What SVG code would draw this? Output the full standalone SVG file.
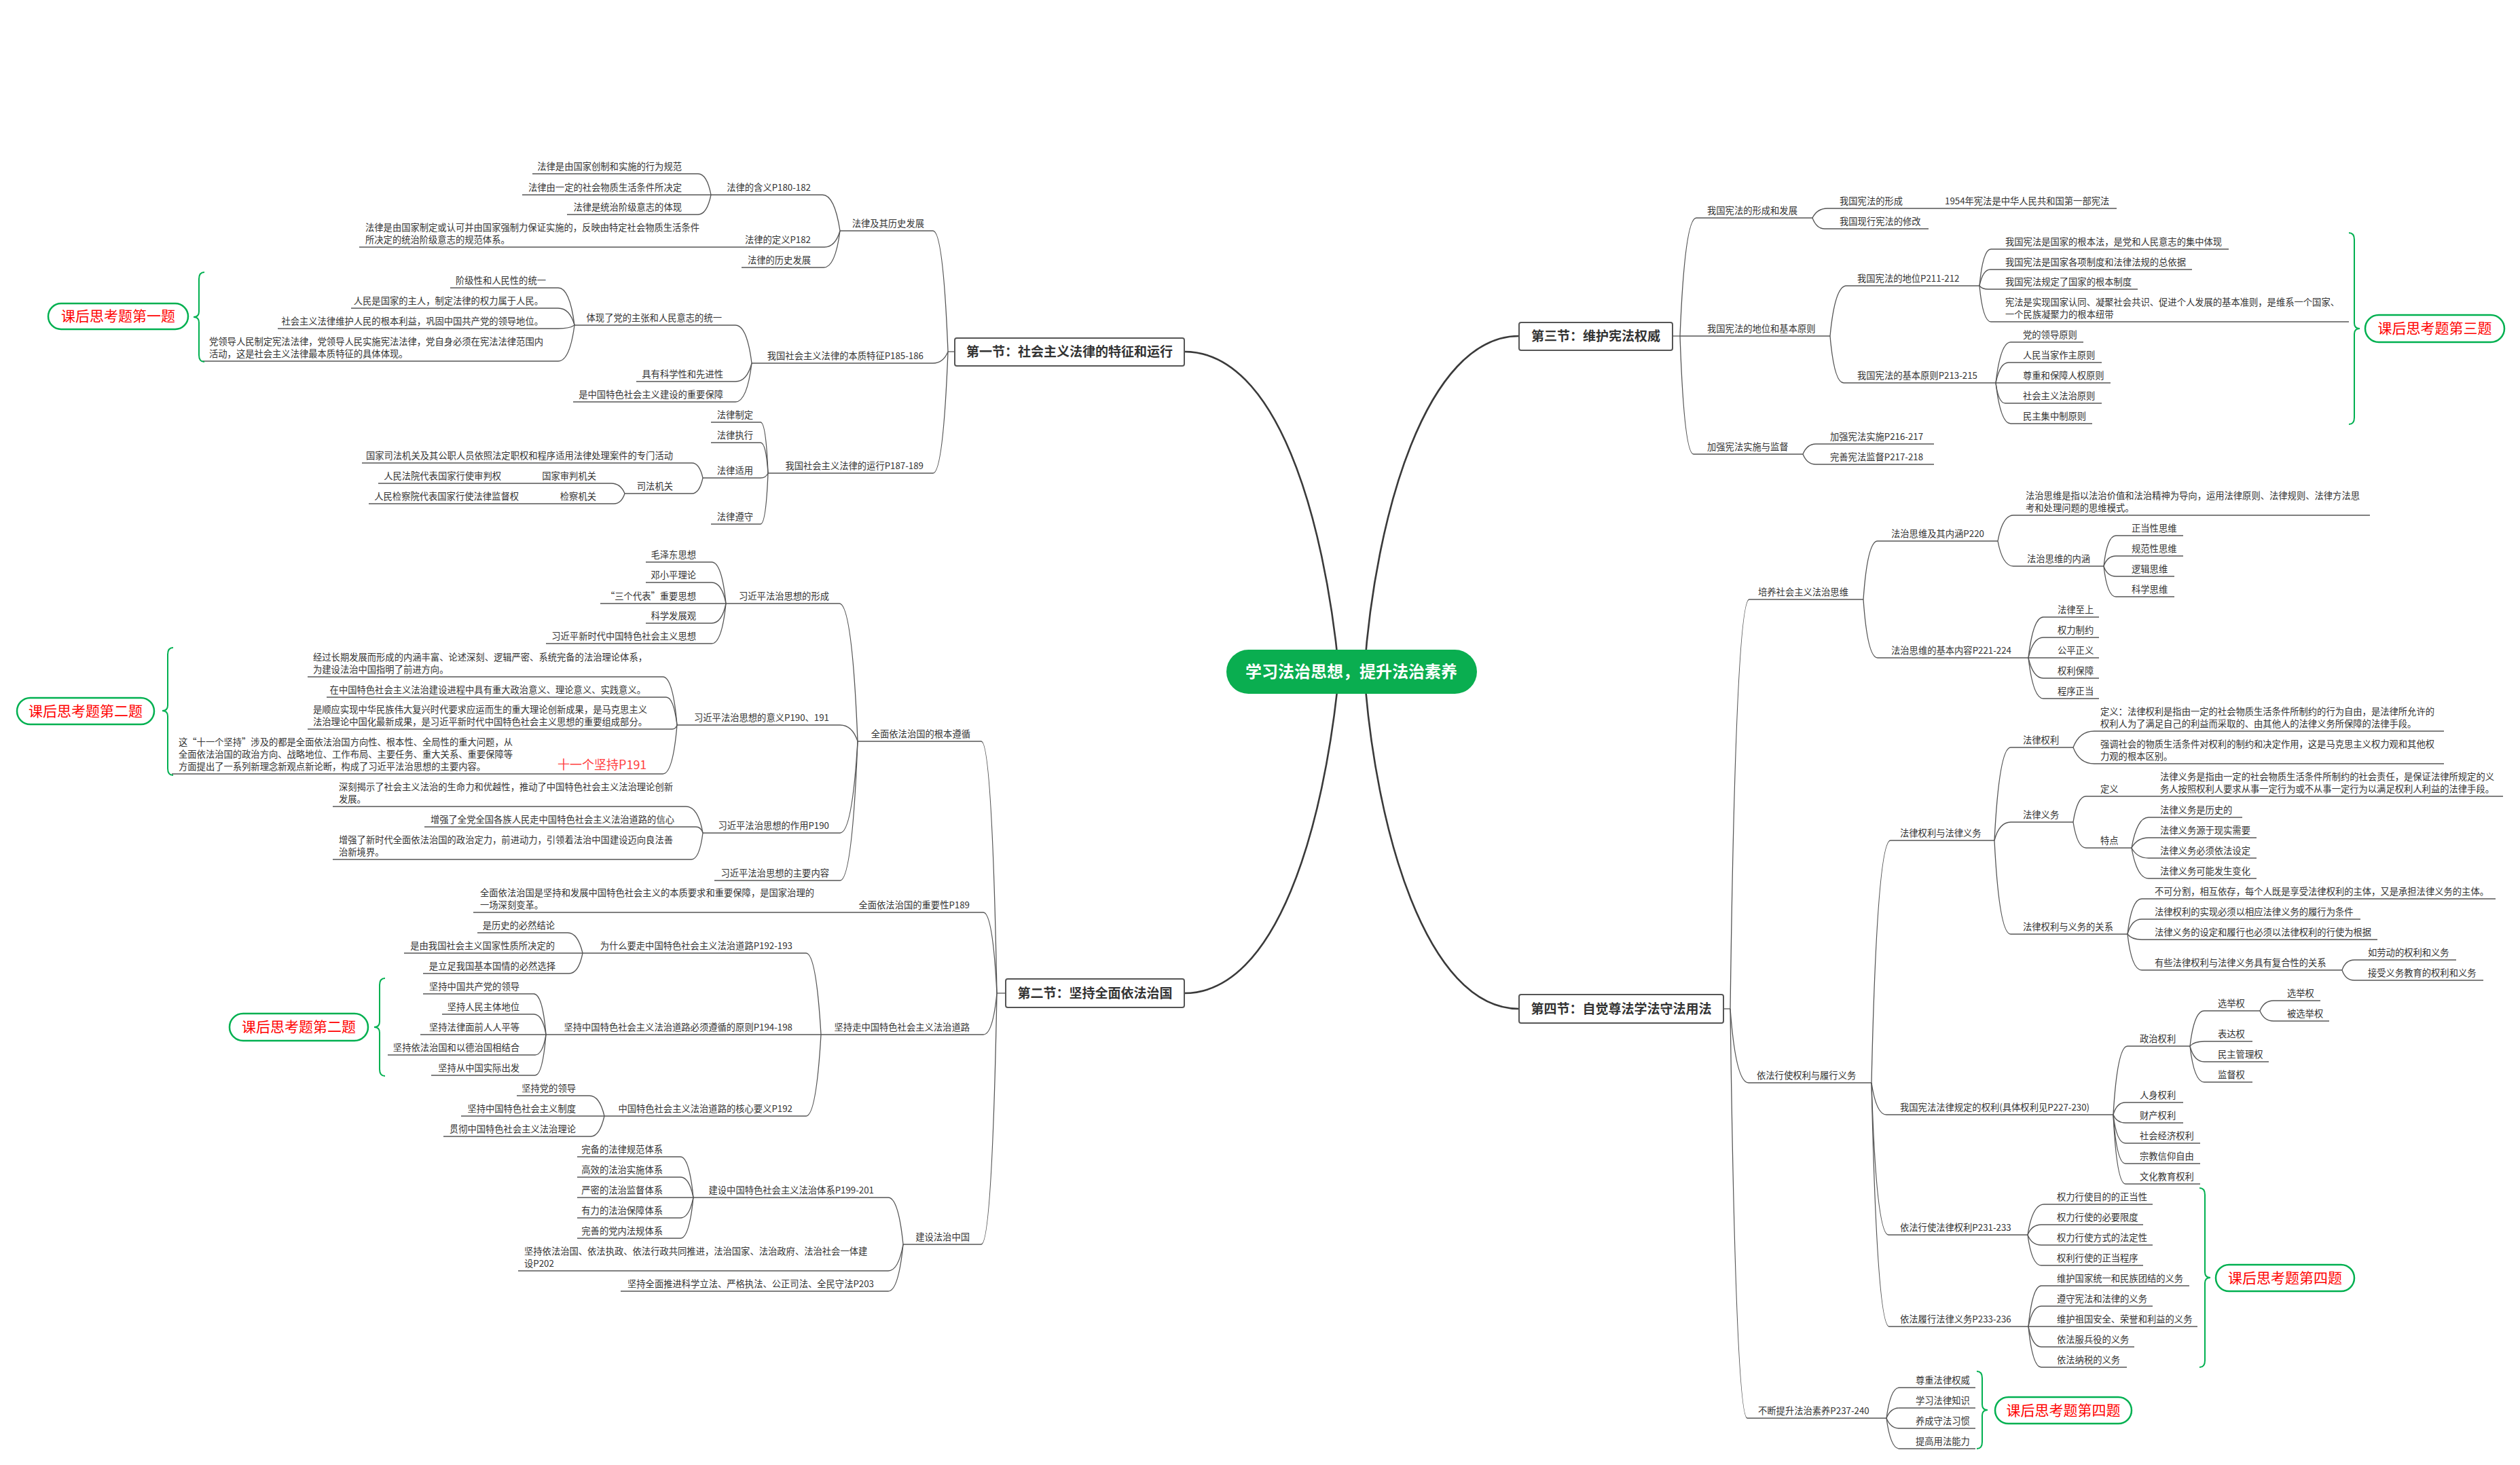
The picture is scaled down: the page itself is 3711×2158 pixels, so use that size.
<svg xmlns="http://www.w3.org/2000/svg" width="3711" height="2158" viewBox="0 0 3711 2158">
<style>
.t{font-family:"Noto Sans CJK SC","Noto Sans",sans-serif;font-size:13.3px;fill:#333}
.e{text-anchor:end}
.u{stroke:#555;stroke-width:1.3;fill:none}
.c{stroke:#555;stroke-width:1.3;fill:none}
.m{stroke:#3a3a3a;stroke-width:2.6;fill:none}
.sec{fill:#fff;stroke:#555;stroke-width:2}
.st{font-family:"Noto Sans CJK SC","Noto Sans",sans-serif;font-size:19px;font-weight:bold;fill:#333;text-anchor:middle}
.hw{fill:#fff;stroke:#00B050;stroke-width:2.5}
.ht{font-family:"Noto Sans CJK SC","Noto Sans",sans-serif;font-size:21px;fill:#FF0000;text-anchor:middle}
.br{stroke:#00B050;stroke-width:2;fill:none}
.red{font-family:"Noto Sans CJK SC","Noto Sans",sans-serif;font-size:18px;fill:#FF4040}
</style>
<rect width="3711" height="2158" fill="#fff"/>

<g id="connectors">
<path class="m" d="M1744,518 C1880,518 1950,760 1972,990"/>
<path class="m" d="M1744,1463 C1880,1463 1950,1220 1972,990"/>
<path class="m" d="M2237,495 C2100,495 2025,760 2009,990"/>
<path class="m" d="M2237,1486 C2100,1486 2025,1220 2009,990"/>
<!-- section 1 -->
<path class="c" d="M1406,518 L1396,518"/>
<path class="c" d="M1396,518 Q1389,340 1374,340"/>
<path class="c" d="M1396,518 Q1389,535 1374,535"/>
<path class="c" d="M1396,518 Q1389,697 1374,697"/>
<path class="c" d="M1237,340 Q1229,287 1211,287"/>
<path class="c" d="M1237,340 Q1230,364 1214,364"/>
<path class="c" d="M1237,340 Q1230,394 1213,394"/>
<path class="c" d="M1047,287 Q1041,256 1028,256"/>
<path class="c" d="M1047,287 Q1041,316 1028,316"/>
<path class="c" d="M1107,535 Q1100,479 1083,479"/>
<path class="c" d="M1107,535 Q1100,562 1083,562"/>
<path class="c" d="M1107,535 Q1100,592 1083,592"/>
<path class="c" d="M846,479 Q839,424 822,424"/>
<path class="c" d="M846,479 Q839,454 822,454"/>
<path class="c" d="M846,479 Q839,484 822,484"/>
<path class="c" d="M846,479 Q839,532 822,532"/>
<path class="c" d="M1131,697 Q1128,622 1120,622"/>
<path class="c" d="M1131,697 Q1128,652 1120,652"/>
<path class="c" d="M1131,697 Q1128,704 1120,704"/>
<path class="c" d="M1131,697 Q1128,772 1120,772"/>
<path class="c" d="M1035,704 Q1030,682 1019,682"/>
<path class="c" d="M1035,704 Q1030,727 1019,727"/>
<path class="c" d="M920,727 Q914,712 900,712"/>
<path class="c" d="M920,727 Q915,742 904,742"/>
<!-- section 2 -->
<path class="c" d="M1481,1463 L1468,1463"/>
<path class="c" d="M1468,1463 Q1461,1092 1445,1092"/>
<path class="c" d="M1468,1463 Q1462,1344 1448,1344"/>
<path class="c" d="M1468,1463 Q1462,1524 1448,1524"/>
<path class="c" d="M1468,1463 Q1461,1833 1445,1833"/>
<path class="c" d="M1263,1092 Q1255,889 1236,889"/>
<path class="c" d="M1263,1092 Q1255,1068 1237,1068"/>
<path class="c" d="M1263,1092 Q1255,1227 1237,1227"/>
<path class="c" d="M1263,1092 Q1255,1297 1237,1297"/>
<path class="c" d="M1069,889 Q1063,828 1048,828"/>
<path class="c" d="M1069,889 Q1063,858 1048,858"/>
<path class="c" d="M1069,889 Q1063,918 1048,918"/>
<path class="c" d="M1069,889 Q1063,948 1048,948"/>
<path class="c" d="M997,1068 Q991,997 976,997"/>
<path class="c" d="M997,1068 Q992,1027 981,1027"/>
<path class="c" d="M997,1068 Q995,1074 990,1074"/>
<path class="c" d="M997,1068 Q991,1140 976,1140"/>
<path class="c" d="M1035,1227 Q1028,1188 1010,1188"/>
<path class="c" d="M1035,1227 Q1032,1218 1025,1218"/>
<path class="c" d="M1035,1227 Q1030,1266 1018,1266"/>
<path class="c" d="M1209,1524 Q1202,1404 1187,1404"/>
<path class="c" d="M1209,1524 Q1202,1644 1187,1644"/>
<path class="c" d="M858,1404 Q851,1374 836,1374"/>
<path class="c" d="M858,1404 Q852,1434 838,1434"/>
<path class="c" d="M804,1524 Q799,1464 786,1464"/>
<path class="c" d="M804,1524 Q799,1494 786,1494"/>
<path class="c" d="M804,1524 Q799,1554 788,1554"/>
<path class="c" d="M804,1524 Q799,1584 788,1584"/>
<path class="c" d="M890,1644 Q883,1614 868,1614"/>
<path class="c" d="M890,1644 Q883,1674 870,1674"/>
<path class="c" d="M1330,1833 Q1323,1764 1308,1764"/>
<path class="c" d="M1330,1833 Q1323,1872 1308,1872"/>
<path class="c" d="M1330,1833 Q1323,1902 1308,1902"/>
<path class="c" d="M1021,1764 Q1015,1704 1002,1704"/>
<path class="c" d="M1021,1764 Q1015,1734 1002,1734"/>
<path class="c" d="M1021,1764 Q1015,1794 1002,1794"/>
<path class="c" d="M1021,1764 Q1015,1824 1002,1824"/>
<!-- section 3 -->
<path class="c" d="M2463,495 L2474,495"/>
<path class="c" d="M2474,495 Q2481,321 2498,321"/>
<path class="c" d="M2474,495 Q2480,669 2494,669"/>
<path class="c" d="M2669,321 Q2676,307 2691,307"/>
<path class="c" d="M2669,321 Q2675,337 2687,337"/>
<path class="c" d="M2695,495 Q2702,421 2719,421"/>
<path class="c" d="M2695,495 Q2701,564 2715,564"/>
<path class="c" d="M2915,421 Q2920,367 2932,367"/>
<path class="c" d="M2915,421 Q2920,397 2931,397"/>
<path class="c" d="M2915,421 Q2919,426 2928,426"/>
<path class="c" d="M2915,421 Q2920,474 2932,474"/>
<path class="c" d="M2939,564 Q2946,504 2961,504"/>
<path class="c" d="M2939,564 Q2945,534 2958,534"/>
<path class="c" d="M2939,564 Q2943,594 2953,594"/>
<path class="c" d="M2939,564 Q2946,624 2961,624"/>
<path class="c" d="M2655,669 Q2661,654 2674,654"/>
<path class="c" d="M2655,669 Q2661,684 2674,684"/>
<!-- section 4 -->
<path class="c" d="M2538,1486 L2548,1486"/>
<path class="c" d="M2548,1486 Q2556,883 2576,883"/>
<path class="c" d="M2548,1486 Q2556,1595 2575,1595"/>
<path class="c" d="M2548,1486 Q2556,2089 2573,2089"/>
<path class="c" d="M2744,883 Q2750,797 2765,797"/>
<path class="c" d="M2744,883 Q2750,969 2765,969"/>
<path class="c" d="M2942,797 Q2949,759 2965,759"/>
<path class="c" d="M2942,797 Q2949,834 2965,834"/>
<path class="c" d="M3098,834 Q3103,789 3116,789"/>
<path class="c" d="M3098,834 Q3103,819 3116,819"/>
<path class="c" d="M3098,834 Q3103,849 3116,849"/>
<path class="c" d="M3098,834 Q3103,879 3116,879"/>
<path class="c" d="M2987,969 Q2994,909 3009,909"/>
<path class="c" d="M2987,969 Q2994,939 3009,939"/>
<path class="c" d="M2987,969 Q2994,999 3009,999"/>
<path class="c" d="M2987,969 Q2994,1029 3009,1029"/>
<path class="c" d="M2756,1595 Q2764,1238 2784,1238"/>
<path class="c" d="M2756,1595 Q2763,1642 2778,1642"/>
<path class="c" d="M2756,1595 Q2763,1819 2781,1819"/>
<path class="c" d="M2756,1595 Q2764,1954 2782,1954"/>
<path class="c" d="M2937,1238 Q2944,1101 2961,1101"/>
<path class="c" d="M2937,1238 Q2944,1211 2961,1211"/>
<path class="c" d="M2937,1238 Q2944,1376 2961,1376"/>
<path class="c" d="M3053,1101 Q3062,1077 3084,1077"/>
<path class="c" d="M3053,1101 Q3062,1125 3084,1125"/>
<path class="c" d="M3053,1211 Q3059,1173 3072,1173"/>
<path class="c" d="M3053,1211 Q3059,1249 3072,1249"/>
<path class="c" d="M3139,1249 Q3147,1204 3164,1204"/>
<path class="c" d="M3139,1249 Q3147,1234 3164,1234"/>
<path class="c" d="M3139,1249 Q3147,1264 3164,1264"/>
<path class="c" d="M3139,1249 Q3147,1294 3164,1294"/>
<path class="c" d="M3133,1376 Q3139,1324 3154,1324"/>
<path class="c" d="M3133,1376 Q3139,1354 3154,1354"/>
<path class="c" d="M3133,1376 Q3139,1384 3154,1384"/>
<path class="c" d="M3133,1376 Q3139,1429 3154,1429"/>
<path class="c" d="M3449,1429 Q3454,1414 3467,1414"/>
<path class="c" d="M3449,1429 Q3454,1444 3467,1444"/>
<path class="c" d="M3112,1642 Q3118,1541 3133,1541"/>
<path class="c" d="M3112,1642 Q3117,1624 3130,1624"/>
<path class="c" d="M3112,1642 Q3117,1654 3130,1654"/>
<path class="c" d="M3112,1642 Q3117,1684 3130,1684"/>
<path class="c" d="M3112,1642 Q3117,1714 3130,1714"/>
<path class="c" d="M3112,1642 Q3117,1744 3130,1744"/>
<path class="c" d="M3225,1541 Q3231,1489 3246,1489"/>
<path class="c" d="M3225,1541 Q3231,1534 3246,1534"/>
<path class="c" d="M3225,1541 Q3231,1564 3246,1564"/>
<path class="c" d="M3225,1541 Q3231,1594 3246,1594"/>
<path class="c" d="M3328,1489 Q3334,1474 3348,1474"/>
<path class="c" d="M3328,1489 Q3334,1504 3348,1504"/>
<path class="c" d="M2986,1819 Q2993,1774 3010,1774"/>
<path class="c" d="M2986,1819 Q2992,1804 3006,1804"/>
<path class="c" d="M2986,1819 Q2992,1834 3006,1834"/>
<path class="c" d="M2986,1819 Q2992,1864 3006,1864"/>
<path class="c" d="M2987,1954 Q2993,1894 3006,1894"/>
<path class="c" d="M2987,1954 Q2993,1924 3006,1924"/>
<path class="c" d="M2987,1954 Q2993,1984 3006,1984"/>
<path class="c" d="M2987,1954 Q2993,2014 3006,2014"/>
<path class="c" d="M2778,2089 Q2784,2044 2797,2044"/>
<path class="c" d="M2778,2089 Q2784,2074 2797,2074"/>
<path class="c" d="M2778,2089 Q2784,2104 2797,2104"/>
<path class="c" d="M2778,2089 Q2784,2134 2797,2134"/>
</g>

<g id="root"><rect x="1806" y="957" width="369" height="65" rx="32.5" fill="#0AAE50"/><text x="1990" y="998" font-family="Noto Sans CJK SC, Noto Sans, sans-serif" font-size="24" font-weight="bold" fill="#fff" text-anchor="middle">学习法治思想，提升法治素养</text></g>

<g id="sec1"><rect class="sec" x="1406" y="498" width="338" height="41" rx="3"/><text class="st" x="1575" y="525">第一节：社会主义法律的特征和运行</text></g>
<g id="sec2"><rect class="sec" x="1481" y="1442" width="263" height="42" rx="3"/><text class="st" x="1612.5" y="1470">第二节：坚持全面依法治国</text></g>
<g id="sec3"><rect class="sec" x="2237" y="475" width="226" height="41" rx="3"/><text class="st" x="2350" y="502">第三节：维护宪法权威</text></g>
<g id="sec4"><rect class="sec" x="2237" y="1465" width="301" height="42" rx="3"/><text class="st" x="2387.5" y="1493">第四节：自觉尊法学法守法用法</text></g>

<!-- Section 1 nodes -->
<g id="n-a"><path class="u" d="M1237 340H1374"/><text class="t e" x="1361" y="334">法律及其历史发展</text></g>
<g id="n-a1"><path class="u" d="M1047 287H1211"/><text class="t e" x="1194" y="281">法律的含义P180-182</text></g>
<g id="n-a1a"><path class="u" d="M784 256H1028"/><text class="t e" x="1004" y="250">法律是由国家创制和实施的行为规范</text></g>
<g id="n-a1b"><path class="u" d="M769 287H1047"/><text class="t e" x="1004" y="281">法律由一定的社会物质生活条件所决定</text></g>
<g id="n-a1c"><path class="u" d="M835 316H1028"/><text class="t e" x="1004" y="310">法律是统治阶级意志的体现</text></g>
<g id="n-a2"><path class="u" d="M1040 364H1214"/><text class="t e" x="1194" y="358">法律的定义P182</text></g>
<g id="n-a2a"><path class="u" d="M529 364H1040"/><text class="t" x="538" y="340">法律是由国家制定或认可并由国家强制力保证实施的，反映由特定社会物质生活条件</text><text class="t" x="538" y="358">所决定的统治阶级意志的规范体系。</text></g>
<g id="n-a3"><path class="u" d="M1092 394H1213"/><text class="t e" x="1194" y="388">法律的历史发展</text></g>
<g id="n-b"><path class="u" d="M1107 535H1374"/><text class="t e" x="1360" y="529">我国社会主义法律的本质特征P185-186</text></g>
<g id="n-b1"><path class="u" d="M846 479H1083"/><text class="t e" x="1063" y="473">体现了党的主张和人民意志的统一</text></g>
<g id="n-b2"><path class="u" d="M937 562H1083"/><text class="t e" x="1065" y="556">具有科学性和先进性</text></g>
<g id="n-b3"><path class="u" d="M844 592H1083"/><text class="t e" x="1065" y="586">是中国特色社会主义建设的重要保障</text></g>
<g id="n-b1a"><path class="u" d="M663 424H822"/><text class="t e" x="804" y="418">阶级性和人民性的统一</text></g>
<g id="n-b1b"><path class="u" d="M517 454H822"/><text class="t e" x="800" y="448">人民是国家的主人，制定法律的权力属于人民。</text></g>
<g id="n-b1c"><path class="u" d="M409 484H822"/><text class="t e" x="800" y="478">社会主义法律维护人民的根本利益，巩固中国共产党的领导地位。</text></g>
<g id="n-b1d"><path class="u" d="M298 532H822"/><text class="t" x="308" y="508">党领导人民制定宪法法律，党领导人民实施宪法法律，党自身必须在宪法法律范围内</text><text class="t" x="308" y="526">活动，这是社会主义法律最本质特征的具体体现。</text></g>
<g id="n-c"><path class="u" d="M1131 697H1374"/><text class="t e" x="1360" y="691">我国社会主义法律的运行P187-189</text></g>
<g id="n-c1"><path class="u" d="M1047 622H1120"/><text class="t e" x="1109" y="616">法律制定</text></g>
<g id="n-c2"><path class="u" d="M1047 652H1120"/><text class="t e" x="1109" y="646">法律执行</text></g>
<g id="n-c3"><path class="u" d="M1035 704H1120"/><text class="t e" x="1109" y="698">法律适用</text></g>
<g id="n-c4"><path class="u" d="M1047 772H1120"/><text class="t e" x="1109" y="766">法律遵守</text></g>
<g id="n-c3a"><path class="u" d="M533 682H1019"/><text class="t e" x="991" y="676">国家司法机关及其公职人员依照法定职权和程序适用法律处理案件的专门活动</text></g>
<g id="n-c3b"><path class="u" d="M920 727H1019"/><text class="t e" x="991" y="721">司法机关</text></g>
<g id="n-c3b1"><path class="u" d="M760 712H900"/><text class="t e" x="878" y="706">国家审判机关</text></g>
<g id="n-c3b1a"><path class="u" d="M557 712H760"/><text class="t e" x="738" y="706">人民法院代表国家行使审判权</text></g>
<g id="n-c3b2"><path class="u" d="M780 742H904"/><text class="t e" x="878" y="736">检察机关</text></g>
<g id="n-c3b2a"><path class="u" d="M543 742H780"/><text class="t e" x="764" y="736">人民检察院代表国家行使法律监督权</text></g>

<!-- Section 2 nodes -->
<g id="n-d"><path class="u" d="M1263 1092H1445"/><text class="t e" x="1429" y="1086">全面依法治国的根本遵循</text></g>
<g id="n-d1"><path class="u" d="M1069 889H1236"/><text class="t e" x="1221" y="883">习近平法治思想的形成</text></g>
<g id="n-d1a"><path class="u" d="M951 828H1048"/><text class="t e" x="1025" y="822">毛泽东思想</text></g>
<g id="n-d1b"><path class="u" d="M951 858H1048"/><text class="t e" x="1025" y="852">邓小平理论</text></g>
<g id="n-d1c"><path class="u" d="M884 889H1069"/><text class="t e" x="1025" y="883">“三个代表”重要思想</text></g>
<g id="n-d1d"><path class="u" d="M951 918H1048"/><text class="t e" x="1025" y="912">科学发展观</text></g>
<g id="n-d1e"><path class="u" d="M804 948H1048"/><text class="t e" x="1025" y="942">习近平新时代中国特色社会主义思想</text></g>
<g id="n-d2"><path class="u" d="M997 1068H1237"/><text class="t e" x="1221" y="1062">习近平法治思想的意义P190、191</text></g>
<g id="n-d2a"><path class="u" d="M453 997H976"/><text class="t" x="461" y="973">经过长期发展而形成的内涵丰富、论述深刻、逻辑严密、系统完备的法治理论体系，</text><text class="t" x="461" y="991">为建设法治中国指明了前进方向。</text></g>
<g id="n-d2b"><path class="u" d="M481 1027H981"/><text class="t e" x="951" y="1021">在中国特色社会主义法治建设进程中具有重大政治意义、理论意义、实践意义。</text></g>
<g id="n-d2c"><path class="u" d="M453 1074H990"/><text class="t" x="461" y="1050">是顺应实现中华民族伟大复兴时代要求应运而生的重大理论创新成果，是马克思主义</text><text class="t" x="461" y="1068">法治理论中国化最新成果，是习近平新时代中国特色社会主义思想的重要组成部分。</text></g>
<g id="n-d2d"><path class="u" d="M253 1140H976"/><text class="t" x="263" y="1098">这“十一个坚持”涉及的都是全面依法治国方向性、根本性、全局性的重大问题，从</text><text class="t" x="263" y="1116">全面依法治国的政治方向、战略地位、工作布局、主要任务、重大关系、重要保障等</text><text class="t" x="263" y="1134">方面提出了一系列新理念新观点新论断，构成了习近平法治思想的主要内容。</text><text class="red" x="821" y="1133">十一个坚持P191</text></g>
<g id="n-d3"><path class="u" d="M1035 1227H1237"/><text class="t e" x="1221" y="1221">习近平法治思想的作用P190</text></g>
<g id="n-d3a"><path class="u" d="M490 1188H1010"/><text class="t" x="499" y="1164">深刻揭示了社会主义法治的生命力和优越性，推动了中国特色社会主义法治理论创新</text><text class="t" x="499" y="1182">发展。</text></g>
<g id="n-d3b"><path class="u" d="M625 1218H1025"/><text class="t e" x="993" y="1212">增强了全党全国各族人民走中国特色社会主义法治道路的信心</text></g>
<g id="n-d3c"><path class="u" d="M490 1266H1018"/><text class="t" x="499" y="1242">增强了新时代全面依法治国的政治定力，前进动力，引领着法治中国建设迈向良法善</text><text class="t" x="499" y="1260">治新境界。</text></g>
<g id="n-d4"><path class="u" d="M1052 1297H1237"/><text class="t e" x="1221" y="1291">习近平法治思想的主要内容</text></g>
<g id="n-e"><path class="u" d="M1240 1344H1448"/><text class="t e" x="1428" y="1338">全面依法治国的重要性P189</text></g>
<g id="n-e1"><path class="u" d="M697 1344H1240"/><text class="t" x="707" y="1320">全面依法治国是坚持和发展中国特色社会主义的本质要求和重要保障，是国家治理的</text><text class="t" x="707" y="1338">一场深刻变革。</text></g>
<g id="n-f"><path class="u" d="M1209 1524H1448"/><text class="t e" x="1428" y="1518">坚持走中国特色社会主义法治道路</text></g>
<g id="n-f1"><path class="u" d="M858 1404H1187"/><text class="t e" x="1167" y="1398">为什么要走中国特色社会主义法治道路P192-193</text></g>
<g id="n-f1a"><path class="u" d="M703 1374H836"/><text class="t e" x="817" y="1368">是历史的必然结论</text></g>
<g id="n-f1b"><path class="u" d="M595 1404H858"/><text class="t e" x="817" y="1398">是由我国社会主义国家性质所决定的</text></g>
<g id="n-f1c"><path class="u" d="M623 1434H838"/><text class="t e" x="818" y="1428">是立足我国基本国情的必然选择</text></g>
<g id="n-f2"><path class="u" d="M804 1524H1209"/><text class="t e" x="1167" y="1518">坚持中国特色社会主义法治道路必须遵循的原则P194-198</text></g>
<g id="n-f2a"><path class="u" d="M623 1464H786"/><text class="t e" x="765" y="1458">坚持中国共产党的领导</text></g>
<g id="n-f2b"><path class="u" d="M651 1494H786"/><text class="t e" x="765" y="1488">坚持人民主体地位</text></g>
<g id="n-f2c"><path class="u" d="M619 1524H804"/><text class="t e" x="765" y="1518">坚持法律面前人人平等</text></g>
<g id="n-f2d"><path class="u" d="M571 1554H788"/><text class="t e" x="765" y="1548">坚持依法治国和以德治国相结合</text></g>
<g id="n-f2e"><path class="u" d="M635 1584H788"/><text class="t e" x="765" y="1578">坚持从中国实际出发</text></g>
<g id="n-f3"><path class="u" d="M890 1644H1187"/><text class="t e" x="1167" y="1638">中国特色社会主义法治道路的核心要义P192</text></g>
<g id="n-f3a"><path class="u" d="M761 1614H868"/><text class="t e" x="848" y="1608">坚持党的领导</text></g>
<g id="n-f3b"><path class="u" d="M679 1644H890"/><text class="t e" x="848" y="1638">坚持中国特色社会主义制度</text></g>
<g id="n-f3c"><path class="u" d="M653 1674H870"/><text class="t e" x="848" y="1668">贯彻中国特色社会主义法治理论</text></g>
<g id="n-g"><path class="u" d="M1330 1833H1445"/><text class="t e" x="1428" y="1827">建设法治中国</text></g>
<g id="n-g1"><path class="u" d="M1021 1764H1308"/><text class="t e" x="1287" y="1758">建设中国特色社会主义法治体系P199-201</text></g>
<g id="n-g1a"><path class="u" d="M850 1704H1002"/><text class="t e" x="976" y="1698">完备的法律规范体系</text></g>
<g id="n-g1b"><path class="u" d="M850 1734H1002"/><text class="t e" x="976" y="1728">高效的法治实施体系</text></g>
<g id="n-g1c"><path class="u" d="M850 1764H1021"/><text class="t e" x="976" y="1758">严密的法治监督体系</text></g>
<g id="n-g1d"><path class="u" d="M850 1794H1002"/><text class="t e" x="976" y="1788">有力的法治保障体系</text></g>
<g id="n-g1e"><path class="u" d="M850 1824H1002"/><text class="t e" x="976" y="1818">完善的党内法规体系</text></g>
<g id="n-g2"><path class="u" d="M763 1872H1308"/><text class="t" x="772" y="1848">坚持依法治国、依法执政、依法行政共同推进，法治国家、法治政府、法治社会一体建</text><text class="t" x="772" y="1866">设P202</text></g>
<g id="n-g3"><path class="u" d="M914 1902H1308"/><text class="t e" x="1287" y="1896">坚持全面推进科学立法、严格执法、公正司法、全民守法P203</text></g>

<!-- Section 3 nodes -->
<g id="n-h"><path class="u" d="M2498 321H2669"/><text class="t" x="2514" y="315">我国宪法的形成和发展</text></g>
<g id="n-h1"><path class="u" d="M2691 307H2850"/><text class="t" x="2709" y="301">我国宪法的形成</text></g>
<g id="n-h1a"><path class="u" d="M2850 307H3117"/><text class="t" x="2864" y="301">1954年宪法是中华人民共和国第一部宪法</text></g>
<g id="n-h2"><path class="u" d="M2687 337H2840"/><text class="t" x="2709" y="331">我国现行宪法的修改</text></g>
<g id="n-i"><path class="u" d="M2474 495H2695"/><text class="t" x="2514" y="489">我国宪法的地位和基本原则</text></g>
<g id="n-i1"><path class="u" d="M2719 421H2915"/><text class="t" x="2735" y="415">我国宪法的地位P211-212</text></g>
<g id="n-i1a"><path class="u" d="M2932 367H3282"/><text class="t" x="2953" y="361">我国宪法是国家的根本法，是党和人民意志的集中体现</text></g>
<g id="n-i1b"><path class="u" d="M2931 397H3228"/><text class="t" x="2953" y="391">我国宪法是国家各项制度和法律法规的总依据</text></g>
<g id="n-i1c"><path class="u" d="M2928 426H3148"/><text class="t" x="2953" y="420">我国宪法规定了国家的根本制度</text></g>
<g id="n-i1d"><path class="u" d="M2932 474H3459"/><text class="t" x="2953" y="450">宪法是实现国家认同、凝聚社会共识、促进个人发展的基本准则，是维系一个国家、</text><text class="t" x="2953" y="468">一个民族凝聚力的根本纽带</text></g>
<g id="n-i2"><path class="u" d="M2715 564H2939"/><text class="t" x="2735" y="558">我国宪法的基本原则P213-215</text></g>
<g id="n-i2a"><path class="u" d="M2961 504H3068"/><text class="t" x="2979" y="498">党的领导原则</text></g>
<g id="n-i2b"><path class="u" d="M2958 534H3095"/><text class="t" x="2979" y="528">人民当家作主原则</text></g>
<g id="n-i2c"><path class="u" d="M2939 564H3108"/><text class="t" x="2979" y="558">尊重和保障人权原则</text></g>
<g id="n-i2d"><path class="u" d="M2953 594H3095"/><text class="t" x="2979" y="588">社会主义法治原则</text></g>
<g id="n-i2e"><path class="u" d="M2961 624H3081"/><text class="t" x="2979" y="618">民主集中制原则</text></g>
<g id="n-j"><path class="u" d="M2494 669H2655"/><text class="t" x="2514" y="663">加强宪法实施与监督</text></g>
<g id="n-j1"><path class="u" d="M2674 654H2848"/><text class="t" x="2695" y="648">加强宪法实施P216-217</text></g>
<g id="n-j2"><path class="u" d="M2674 684H2848"/><text class="t" x="2695" y="678">完善宪法监督P217-218</text></g>

<!-- Section 4 nodes -->
<g id="n-k"><path class="u" d="M2576 883H2744"/><text class="t" x="2589" y="877">培养社会主义法治思维</text></g>
<g id="n-k1"><path class="u" d="M2765 797H2942"/><text class="t" x="2785" y="791">法治思维及其内涵P220</text></g>
<g id="n-k1a"><path class="u" d="M2965 759H3490"/><text class="t" x="2983" y="735">法治思维是指以法治价值和法治精神为导向，运用法律原则、法律规则、法律方法思</text><text class="t" x="2983" y="753">考和处理问题的思维模式。</text></g>
<g id="n-k1b"><path class="u" d="M2965 834H3098"/><text class="t" x="2985" y="828">法治思维的内涵</text></g>
<g id="n-k1b1"><path class="u" d="M3116 789H3215"/><text class="t" x="3139" y="783">正当性思维</text></g>
<g id="n-k1b2"><path class="u" d="M3116 819H3215"/><text class="t" x="3139" y="813">规范性思维</text></g>
<g id="n-k1b3"><path class="u" d="M3116 849H3202"/><text class="t" x="3139" y="843">逻辑思维</text></g>
<g id="n-k1b4"><path class="u" d="M3116 879H3202"/><text class="t" x="3139" y="873">科学思维</text></g>
<g id="n-k2"><path class="u" d="M2765 969H2987"/><text class="t" x="2785" y="963">法治思维的基本内容P221-224</text></g>
<g id="n-k2a"><path class="u" d="M3009 909H3091"/><text class="t" x="3030" y="903">法律至上</text></g>
<g id="n-k2b"><path class="u" d="M3009 939H3091"/><text class="t" x="3030" y="933">权力制约</text></g>
<g id="n-k2c"><path class="u" d="M2987 969H3091"/><text class="t" x="3030" y="963">公平正义</text></g>
<g id="n-k2d"><path class="u" d="M3009 999H3091"/><text class="t" x="3030" y="993">权利保障</text></g>
<g id="n-k2e"><path class="u" d="M3009 1029H3091"/><text class="t" x="3030" y="1023">程序正当</text></g>
<g id="n-l"><path class="u" d="M2575 1595H2756"/><text class="t" x="2587" y="1589">依法行使权利与履行义务</text></g>
<g id="n-l1"><path class="u" d="M2784 1238H2937"/><text class="t" x="2798" y="1232">法律权利与法律义务</text></g>
<g id="n-l1a"><path class="u" d="M2961 1101H3053"/><text class="t" x="2979" y="1095">法律权利</text></g>
<g id="n-l1a1"><path class="u" d="M3084 1077H3599"/><text class="t" x="3093" y="1053">定义：法律权利是指由一定的社会物质生活条件所制约的行为自由，是法律所允许的</text><text class="t" x="3093" y="1071">权利人为了满足自己的利益而采取的、由其他人的法律义务所保障的法律手段。</text></g>
<g id="n-l1a2"><path class="u" d="M3084 1125H3599"/><text class="t" x="3093" y="1101">强调社会的物质生活条件对权利的制约和决定作用，这是马克思主义权力观和其他权</text><text class="t" x="3093" y="1119">力观的根本区别。</text></g>
<g id="n-l1b"><path class="u" d="M2961 1211H3053"/><text class="t" x="2979" y="1205">法律义务</text></g>
<g id="n-l1b1"><path class="u" d="M3072 1173H3170"/><text class="t" x="3093" y="1167">定义</text></g>
<g id="n-l1b1a"><path class="u" d="M3170 1173H3686"/><text class="t" x="3181" y="1149">法律义务是指由一定的社会物质生活条件所制约的社会责任，是保证法律所规定的义</text><text class="t" x="3181" y="1167">务人按照权利人要求从事一定行为或不从事一定行为以满足权利人利益的法律手段。</text></g>
<g id="n-l1b2"><path class="u" d="M3072 1249H3139"/><text class="t" x="3093" y="1243">特点</text></g>
<g id="n-l1b2a"><path class="u" d="M3164 1204H3302"/><text class="t" x="3181" y="1198">法律义务是历史的</text></g>
<g id="n-l1b2b"><path class="u" d="M3164 1234H3323"/><text class="t" x="3181" y="1228">法律义务源于现实需要</text></g>
<g id="n-l1b2c"><path class="u" d="M3164 1264H3323"/><text class="t" x="3181" y="1258">法律义务必须依法设定</text></g>
<g id="n-l1b2d"><path class="u" d="M3164 1294H3323"/><text class="t" x="3181" y="1288">法律义务可能发生变化</text></g>
<g id="n-l1c"><path class="u" d="M2961 1376H3133"/><text class="t" x="2979" y="1370">法律权利与义务的关系</text></g>
<g id="n-l1c1"><path class="u" d="M3154 1324H3675"/><text class="t" x="3173" y="1318">不可分割，相互依存，每个人既是享受法律权利的主体，又是承担法律义务的主体。</text></g>
<g id="n-l1c2"><path class="u" d="M3154 1354H3476"/><text class="t" x="3173" y="1348">法律权利的实现必须以相应法律义务的履行为条件</text></g>
<g id="n-l1c3"><path class="u" d="M3154 1384H3501"/><text class="t" x="3173" y="1378">法律义务的设定和履行也必须以法律权利的行使为根据</text></g>
<g id="n-l1c4"><path class="u" d="M3154 1429H3449"/><text class="t" x="3173" y="1423">有些法律权利与法律义务具有复合性的关系</text></g>
<g id="n-l1c4a"><path class="u" d="M3467 1414H3617"/><text class="t" x="3487" y="1408">如劳动的权利和义务</text></g>
<g id="n-l1c4b"><path class="u" d="M3467 1444H3657"/><text class="t" x="3487" y="1438">接受义务教育的权利和义务</text></g>
<g id="n-l2"><path class="u" d="M2778 1642H3112"/><text class="t" x="2798" y="1636">我国宪法法律规定的权利(具体权利见P227-230)</text></g>
<g id="n-l2a"><path class="u" d="M3133 1541H3225"/><text class="t" x="3151" y="1535">政治权利</text></g>
<g id="n-l2a1"><path class="u" d="M3246 1489H3328"/><text class="t" x="3266" y="1483">选举权</text></g>
<g id="n-l2a1a"><path class="u" d="M3348 1474H3417"/><text class="t" x="3368" y="1468">选举权</text></g>
<g id="n-l2a1b"><path class="u" d="M3348 1504H3430"/><text class="t" x="3368" y="1498">被选举权</text></g>
<g id="n-l2a2"><path class="u" d="M3246 1534H3317"/><text class="t" x="3266" y="1528">表达权</text></g>
<g id="n-l2a3"><path class="u" d="M3246 1564H3341"/><text class="t" x="3266" y="1558">民主管理权</text></g>
<g id="n-l2a4"><path class="u" d="M3246 1594H3317"/><text class="t" x="3266" y="1588">监督权</text></g>
<g id="n-l2b"><path class="u" d="M3130 1624H3215"/><text class="t" x="3151" y="1618">人身权利</text></g>
<g id="n-l2c"><path class="u" d="M3130 1654H3215"/><text class="t" x="3151" y="1648">财产权利</text></g>
<g id="n-l2d"><path class="u" d="M3130 1684H3240"/><text class="t" x="3151" y="1678">社会经济权利</text></g>
<g id="n-l2e"><path class="u" d="M3130 1714H3240"/><text class="t" x="3151" y="1708">宗教信仰自由</text></g>
<g id="n-l2f"><path class="u" d="M3130 1744H3240"/><text class="t" x="3151" y="1738">文化教育权利</text></g>
<g id="n-l3"><path class="u" d="M2781 1819H2986"/><text class="t" x="2798" y="1813">依法行使法律权利P231-233</text></g>
<g id="n-l3a"><path class="u" d="M3010 1774H3170"/><text class="t" x="3029" y="1768">权力行使目的的正当性</text></g>
<g id="n-l3b"><path class="u" d="M3006 1804H3156"/><text class="t" x="3029" y="1798">权力行使的必要限度</text></g>
<g id="n-l3c"><path class="u" d="M3006 1834H3170"/><text class="t" x="3029" y="1828">权力行使方式的法定性</text></g>
<g id="n-l3d"><path class="u" d="M3006 1864H3156"/><text class="t" x="3029" y="1858">权利行使的正当程序</text></g>
<g id="n-l4"><path class="u" d="M2782 1954H2987"/><text class="t" x="2798" y="1948">依法履行法律义务P233-236</text></g>
<g id="n-l4a"><path class="u" d="M3006 1894H3224"/><text class="t" x="3029" y="1888">维护国家统一和民族团结的义务</text></g>
<g id="n-l4b"><path class="u" d="M3006 1924H3170"/><text class="t" x="3029" y="1918">遵守宪法和法律的义务</text></g>
<g id="n-l4c"><path class="u" d="M2987 1954H3236"/><text class="t" x="3029" y="1948">维护祖国安全、荣誉和利益的义务</text></g>
<g id="n-l4d"><path class="u" d="M3006 1984H3143"/><text class="t" x="3029" y="1978">依法服兵役的义务</text></g>
<g id="n-l4e"><path class="u" d="M3006 2014H3132"/><text class="t" x="3029" y="2008">依法纳税的义务</text></g>
<g id="n-m"><path class="u" d="M2573 2089H2778"/><text class="t" x="2589" y="2083">不断提升法治素养P237-240</text></g>
<g id="n-m1"><path class="u" d="M2797 2044H2909"/><text class="t" x="2821" y="2038">尊重法律权威</text></g>
<g id="n-m2"><path class="u" d="M2797 2074H2909"/><text class="t" x="2821" y="2068">学习法律知识</text></g>
<g id="n-m3"><path class="u" d="M2797 2104H2909"/><text class="t" x="2821" y="2098">养成守法习惯</text></g>
<g id="n-m4"><path class="u" d="M2797 2134H2909"/><text class="t" x="2821" y="2128">提高用法能力</text></g>

<!-- summary braces and labels -->
<g id="q1"><path class="br" d="M301,401 Q293,401 293,411 L293,459 Q293,467 285,467 Q293,467 293,475 L293,523 Q293,533 301,533"/><rect class="hw" x="71" y="447" width="206" height="38" rx="19"/><text class="ht" x="174" y="473">课后思考题第一题</text></g>
<g id="q2a"><path class="br" d="M255,954 Q247,954 247,964 L247,1039 Q247,1047 239,1047 Q247,1047 247,1055 L247,1132 Q247,1142 255,1142"/><rect class="hw" x="25" y="1028" width="202" height="39" rx="19.5"/><text class="ht" x="126" y="1055">课后思考题第二题</text></g>
<g id="q2b"><path class="br" d="M567,1441 Q559,1441 559,1451 L559,1505 Q559,1513 551,1513 Q559,1513 559,1521 L559,1575 Q559,1585 567,1585"/><rect class="hw" x="338" y="1493" width="204" height="40" rx="20"/><text class="ht" x="440" y="1520">课后思考题第二题</text></g>
<g id="q3"><path class="br" d="M3459,343 Q3467,343 3467,353 L3467,476 Q3467,484 3475,484 Q3467,484 3467,492 L3467,615 Q3467,625 3459,625"/><rect class="hw" x="3483" y="464" width="205" height="40" rx="20"/><text class="ht" x="3585.5" y="491">课后思考题第三题</text></g>
<g id="q4a"><path class="br" d="M3239,1750 Q3247,1750 3247,1760 L3247,1874 Q3247,1882 3255,1882 Q3247,1882 3247,1890 L3247,2004 Q3247,2014 3239,2014"/><rect class="hw" x="3263" y="1863" width="204" height="39" rx="19.5"/><text class="ht" x="3365" y="1890">课后思考题第四题</text></g>
<g id="q4b"><path class="br" d="M2911,2020 Q2919,2020 2919,2030 L2919,2069 Q2919,2077 2927,2077 Q2919,2077 2919,2085 L2919,2124 Q2919,2134 2911,2134"/><rect class="hw" x="2938" y="2058" width="201" height="39" rx="19.5"/><text class="ht" x="3038.5" y="2085">课后思考题第四题</text></g>
</svg>
